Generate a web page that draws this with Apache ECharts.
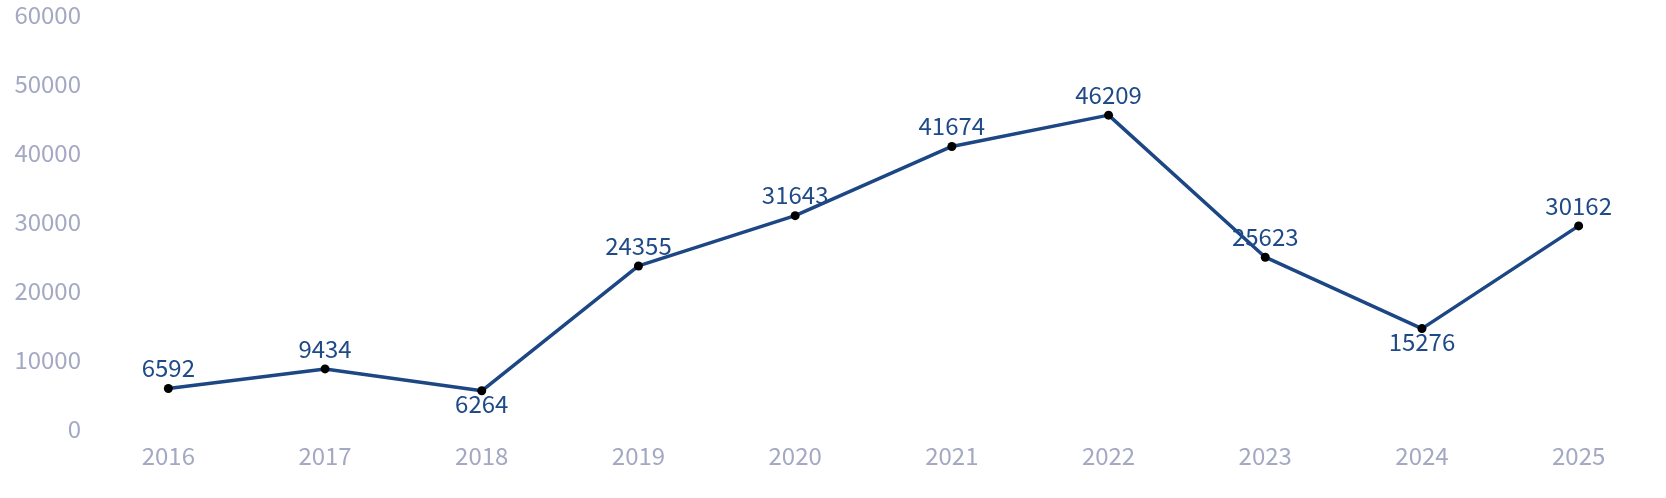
<!DOCTYPE html>
<html>
<head>
<meta charset="utf-8">
<style>
  html, body { margin: 0; padding: 0; background: #fff; }
  #chart { width: 1666px; height: 498px; }
</style>
<script src="https://cdn.jsdelivr.net/npm/echarts@6/dist/echarts.min.js"></script>
</head>
<body>
<div id="chart"></div>
<script>
const years = ['2016', '2017', '2018', '2019', '2020', '2021', '2022', '2023', '2024', '2025'];
const counts = [6592, 9434, 6264, 24355, 31643, 41674, 46209, 25623, 15276, 30162];
// which labels sit under the point
const labelBelow = ['2018', '2024'];

const chart = echarts.init(document.getElementById('chart'));

const seriesData = counts.map((v, i) => {
    if (labelBelow.includes(years[i])) {
        return { value: v, label: { position: 'bottom', distance: -3 } };
    }
    return v;
});

chart.setOption({
    animation: false,
    grid: { left: 90, right: 9, top: 20, bottom: 64 },
    xAxis: {
        type: 'category',
        data: years,
        axisLine: { show: false },
        axisTick: { show: false },
        axisLabel: {
            color: '#a3a9c2',
            fontSize: 24,
            fontFamily: 'Noto Sans CJK SC',
            margin: 10
        }
    },
    yAxis: {
        type: 'value',
        min: 0,
        max: 60000,
        interval: 10000,
        splitLine: { show: false },
        axisLine: { show: false },
        axisTick: { show: false },
        axisLabel: {
            color: '#a3a9c2',
            fontSize: 24,
            fontFamily: 'Noto Sans CJK SC',
            margin: 9,
            formatter: v => String(v),
            verticalAlign: 'bottom',
            lineHeight: 11
        }
    },
    series: [{
        type: 'line',
        data: seriesData,
        symbol: 'circle',
        symbolSize: 9,
        itemStyle: { color: '#000' },
        lineStyle: { color: '#1c4784', width: 3.5 },
        label: {
            show: true,
            position: 'top',
            distance: 4,
            color: '#1f4a88',
            fontSize: 24,
            fontFamily: 'Noto Sans CJK SC'
        }
    }]
});
</script>
</body>
</html>
